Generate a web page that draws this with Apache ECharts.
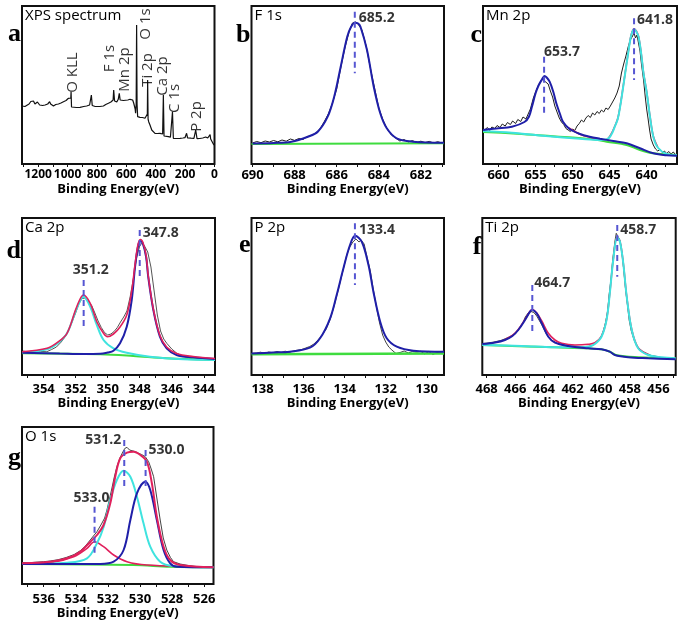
<!DOCTYPE html>
<html><head><meta charset="utf-8">
<script src="https://cdn.jsdelivr.net/npm/echarts@6/dist/echarts.min.js"></script>
<style>html,body{margin:0;padding:0;background:#fff}#c{width:684px;height:623px}</style>
</head><body><div id="c"></div>
<script>
// ---------- tick labels ----------
const labelsA = [0, 200, 400, 600, 800, 1000, 1200];
const labelsB = [682, 684, 686, 688, 690];
const labelsC = [640, 645, 650, 655, 660];
const labelsD = [344, 346, 348, 350, 352, 354];
const labelsE = [130, 132, 134, 136, 138];
const labelsF = [456, 458, 460, 462, 464, 466, 468];
const labelsG = [526, 528, 530, 532, 534, 536];
const panelTitles = ['XPS spectrum', 'F 1s', 'Mn 2p', 'Ca 2p', 'P 2p', 'Ti 2p', 'O 1s'];
const panelLetters = ['a', 'b', 'c', 'd', 'e', 'f', 'g'];
const axisTitle = 'Binding Energy(eV)';

// ---------- a: survey ----------
const surveyData = [[1310,58],[1290,57.5],[1278,58.7],[1262,60],[1250,62.5],[1243,62],[1238,64],[1232,63],[1222,60],[1214,60.7],[1205,62],[1198,63.3],[1190,59],[1187,58],[1170,58.5],[1153,59],[1135,60],[1122,62.3],[1115,60],[1096,58],[1080,59.5],[1062,60],[1045,61],[1028,62.3],[1010,63.5],[1005,64.7],[994,65.7],[983,64],[978,66],[976,72.3],[973,57],[969,57.5],[960,55.7],[940,56.5],[915,56.7],[890,57.5],[870,58],[850,59],[842,59],[838,69],[835,69],[832,58.5],[828,58],[812,57.5],[800,56.7],[780,57.5],[756,58],[740,59.5],[722,60.7],[705,62],[700,62.3],[690,64],[686,74],[683,74],[680,63],[677,62.3],[665,62],[655,64.7],[650,64],[648,70.7],[645,70.7],[642,64],[638,64],[620,63.5],[609,63.3],[590,64],[575,64.7],[557,64],[550,61],[545,59],[540,55],[537,50.7],[533,60],[530,139],[527,60],[523,47.3],[515,47],[507,46.7],[490,46.5],[473,45.7],[462,47.3],[457,50],[455,84],[452,45],[448,42.3],[439,39],[427,34],[415,32],[405,30.7],[390,30.5],[371,30.7],[353,30],[350,31],[348,69],[346,69],[343.5,28],[330,27.5],[314,27.3],[300,26.8],[289,26.7],[286,52.3],[283,52.3],[280,25.7],[260,25.5],[235,25.7],[215,26],[201,26.3],[190,30.7],[187,30.7],[183,26],[160,25.8],[140,25.7],[130,26],[128,34],[125,34],[119,25.3],[100,25.5],[80,26],[76,26.3],[60,27],[53,28],[46,26],[42,26.3],[35,28],[30,29.3],[26,25],[22,24],[15,24.3],[8,20],[4,20.5],[1,19],[0,19]];
const surveyLabels = [['O KLL',963,91.5],['F 1s',711,105.5],['Mn 2p',609,94.5],['O 1s',466,140],['Ti 2p',452,94],['Ca 2p',350,88],['C 1s',269,65.5],['P 2p',119,47.5]];

// ---------- b: F 1s ----------
const bRaw = [[690.0,21],[689.8,22.5],[689.6,21.3],[689.4,23],[689.2,22],[689.0,23.5],[688.8,22.2],[688.6,24],[688.4,22.8],[688.2,25],[688.0,23.6],[687.8,25.5],[687.6,24.5],[687.4,27.5],[687.2,28.5],[687.0,31],[686.8,35],[686.6,42],[686.4,50],[686.2,61],[686.0,75],[685.8,97],[685.6,117],[685.4,133],[685.25,141],[685.1,142],[684.95,139],[684.8,134],[684.6,118],[684.4,96],[684.2,76],[684.0,56],[683.8,44],[683.6,35],[683.4,29],[683.2,26],[683.0,23],[682.8,24.5],[682.6,22],[682.4,23.4],[682.2,21.5],[682.0,22.8],[681.8,21.4],[681.6,22.6],[681.4,21],[681.2,22.3],[681.0,21]];
const bFit = [[690.0,20.6],[689.0,21],[688.15,22.3],[687.37,27.3],[686.9,32.3],[686.43,47.3],[686.12,67.3],[685.81,97.3],[685.5,127.3],[685.32,137],[685.14,141.3],[684.98,140.5],[684.87,137.3],[684.56,114],[684.24,77.3],[683.93,50.7],[683.62,35.7],[683.15,25.7],[682.37,22.3],[680.9,21.3]];
const bBase = [[690.05,20],[680.9,20.7]];
const bPeaks = [['685.2',685.14,152.3,90.7,145.7,'right',4,0]];

// ---------- c: Mn 2p ----------
const cRaw = [[661.9,34],[661.5,36.5],[661.2,33.5],[660.9,37],[660.5,35.5],[660.2,38.5],[659.8,36.5],[659.5,40],[659.1,38],[658.8,41.5],[658.4,39.5],[658.1,43],[657.7,40.5],[657.4,44.5],[657.0,42.5],[656.7,47],[656.3,45],[656.0,50],[655.7,55],[655.3,66],[655.0,72],[654.6,79],[654.3,83],[654.0,86.5],[653.8,83],[653.6,85],[653.3,80],[653.0,73],[652.7,67],[652.4,58],[652.1,52],[651.8,46],[651.5,42],[651.2,39.5],[650.9,35.5],[650.6,34],[650.3,32.5],[650.0,35],[649.7,33.5],[649.4,38],[649.1,40.5],[648.8,44],[648.5,42],[648.2,46],[647.9,48.5],[647.6,46.5],[647.3,51],[647.0,49],[646.7,52.5],[646.4,50.5],[646.1,54],[645.8,52],[645.5,56],[645.2,54.5],[644.9,58],[644.6,62],[644.3,66],[644.0,71],[643.7,78],[643.4,91],[643.1,100],[642.8,108],[642.5,117],[642.2,124],[641.9,128],[641.7,131],[641.5,126],[641.3,129],[641.1,121],[640.9,113],[640.7,100],[640.4,83],[640.2,68],[640.0,55],[639.8,45],[639.6,34],[639.4,25],[639.1,19],[638.8,15],[638.5,13],[638.2,14.5],[637.9,11.5],[637.6,13],[637.3,10.5],[637.0,12.5],[636.7,10],[636.4,12],[636.1,9.5],[635.9,11]];
const cBlue = [[662.1,34],[660.3,35.5],[658.2,37.3],[656.5,42],[655.9,47.3],[655.5,57],[655.0,70.7],[654.6,78.5],[654.1,85],[653.8,88],[653.5,86.5],[653.1,82.3],[652.6,72],[652.2,60.7],[651.7,50],[651.3,42.3],[650.4,35],[649.0,30],[647.7,27.3],[646.3,25.3],[644.5,23],[642.7,20.7],[640.9,15.7],[639.1,10.7],[637.3,8.7],[635.9,8.3]];
const cCyan = [[662.1,33],[658.2,31.3],[653.6,28],[649.0,25.3],[646.3,24],[645.4,24.4],[644.8,29],[644.3,37.3],[643.9,45],[643.58,57.3],[643.25,73],[642.9,90.7],[642.55,108],[642.22,124],[641.95,132],[641.68,134.7],[641.4,132.5],[641.1,127.3],[640.75,111],[640.42,90.7],[640.0,72],[639.55,47.3],[639.1,27.3],[638.5,16.5],[637.3,10],[635.9,8.7]];
const cRed = [[650.5,36],[649.0,29.8],[647.7,26.8],[646.3,24.8],[645.6,24.2],[645.2,25.5],[644.8,29.8],[644.3,37.8],[643.9,45.5],[643.58,57.8],[643.25,73.5],[642.9,91.2],[642.55,108.5],[642.22,124.5],[641.95,132.5],[641.68,135.2],[641.4,133],[641.1,127.8],[640.75,111.5],[640.42,91.2],[640.0,72.5],[639.55,47.8],[639.1,27.8],[638.5,17]];
const cBase = [[662.1,32],[658,30.5],[654,28.5],[650,26.5],[647,24.5],[645.4,22.3],[642.7,19],[640.9,14],[639.1,10.7],[635.9,9]];
const cPeaks = [['641.8',641.7,145.7,84,144,'right',3,0],['653.7',653.85,107.3,47.3,112.3,'right',0,0]];

// ---------- d: Ca 2p ----------
const dRaw = [[355.3,24],[355.0,23.2],[354.6,24.4],[354.2,23.5],[353.8,23.3],[353.5,25.5],[353.2,28],[352.9,33],[352.6,39.5],[352.3,50],[352.0,62],[351.8,71],[351.6,76.5],[351.4,77],[351.2,74],[351.0,69.5],[350.8,62],[350.6,54],[350.4,47.5],[350.2,42.5],[350.0,40],[349.8,41],[349.6,43.5],[349.4,47.5],[349.2,53],[349.0,58],[348.8,64],[348.6,78],[348.4,96],[348.2,117],[348.0,129],[347.85,132],[347.7,129],[347.5,123],[347.3,108],[347.1,84],[346.9,60],[346.7,44],[346.5,36],[346.3,31.5],[346.0,26],[345.7,22],[345.4,19.5],[345.1,18],[344.7,17.2],[344.3,17],[343.9,16.5],[343.3,16.3]];
const dBlue = [[355.34,22.3],[353.0,21.5],[351.5,21],[350.47,21.2],[350.0,22.5],[349.64,24.3],[349.23,31.7],[348.81,48.3],[348.5,75],[348.29,108.3],[348.1,129],[347.95,134],[347.8,131],[347.6,118],[347.47,98.3],[347.15,65],[346.74,38.3],[346.32,26.7],[345.7,20],[344.67,17.7],[343.3,16]];
const dRed = [[355.34,23.3],[353.79,26.7],[353.1,33],[352.54,41.7],[351.93,68.3],[351.51,80],[351.09,71.7],[350.68,53.3],[350.26,41.7],[350.01,38.3],[349.64,41],[349.23,48],[348.81,60],[348.5,84],[348.29,111],[348.1,131],[347.95,135.5],[347.8,132.5],[347.6,119.5],[347.47,99.5],[347.15,66],[346.74,39.5],[346.32,28],[345.7,21.5],[344.67,18.5],[343.3,16.5]];
const dCyan = [[355.34,22.3],[353.79,25.7],[353.1,32],[352.54,41.7],[351.93,66.7],[351.51,78.3],[351.09,68.3],[350.68,50],[350.26,35],[349.64,26.7],[348.81,22.3],[347.36,18.3],[345.29,15.7],[343.3,15]];
const dBase = [[355.34,21.7],[350.47,20.7],[348.4,19],[346.32,16.7],[343.3,15]];
const dPeaks = [['347.8',348.0,145,95,141.7,'right',3,0],['351.2',351.5,95,45,105,'inside',0,7]];

// ---------- e: P 2p ----------
const eRaw = [[138.54,21.5],[138.3,22],[138.1,22.8],[137.9,21.7],[137.7,23],[137.5,22.2],[137.3,23.5],[137.1,22.5],[136.9,23.8],[136.7,22.6],[136.5,24],[136.3,24.8],[136.1,25.5],[135.9,27],[135.7,28.5],[135.5,31],[135.3,35],[135.1,40],[134.9,46],[134.7,56],[134.5,70],[134.3,86],[134.1,103],[133.9,120],[133.75,128],[133.6,133],[133.45,136],[133.3,133],[133.2,135],[133.05,131],[132.9,117],[132.75,104],[132.6,85],[132.45,68],[132.3,52],[132.15,40],[132.0,33],[131.85,28],[131.7,25],[131.5,21.5],[131.3,22.5],[131.1,24],[130.9,22],[130.7,23.5],[130.5,22.8],[130.3,23.7],[130.1,21],[129.9,23.5],[129.7,20.5],[129.5,22.5],[129.3,23.2],[129.16,24]];
const eFit = [[138.54,21.5],[137.5,22.5],[136.67,23.3],[135.69,27.3],[135.2,36.7],[134.71,56.7],[134.39,80],[134.06,106.7],[133.74,130],[133.49,139.3],[133.17,133.3],[132.84,110],[132.6,83.3],[132.27,53.3],[131.95,36.7],[131.46,28.3],[130.65,24.3],[129.16,23.3]];
const eBase = [[138.54,20.7],[129.16,21.5]];
const ePeaks = [['133.4',133.5,151.7,90,145,'right',4,0]];

// ---------- f: Ti 2p ----------
const fRaw = [[468.3,31.5],[467.9,32],[467.5,33],[467.0,34.5],[466.5,37.5],[466.0,41],[465.79,45],[465.5,51],[465.3,58],[465.1,62],[464.9,63.5],[464.7,62.5],[464.5,59],[464.3,54],[464.1,49],[463.9,43],[463.7,38],[463.46,35],[463.0,31],[462.6,30],[462.3,29],[461.8,28.8],[461.4,28.3],[460.9,28.7],[460.6,29.5],[460.44,31],[460.2,34],[460.0,38],[459.85,44],[459.7,52],[459.55,64],[459.45,80],[459.3,97],[459.2,115],[459.05,133],[458.95,141.7],[458.85,140],[458.7,135],[458.6,127],[458.5,116],[458.4,101],[458.3,86],[458.15,68],[458.05,55],[457.9,44],[457.7,35],[457.5,29],[457.3,26],[457.1,23.5],[456.9,22],[456.5,19.5],[456.1,18.5],[455.8,17.5],[455.3,17],[454.8,16.5]];
const fBlue = [[468.3,31],[467.4,32.5],[466.72,35],[466.2,39],[465.79,45],[465.32,55],[464.97,63.3],[464.81,65],[464.5,61.7],[464.15,51.7],[463.69,38.3],[463.23,32.3],[462.3,29],[460.91,26.7],[459.98,25.7],[459.4,23.3],[459.05,20],[458.12,17.7],[456.72,16.7],[454.8,15.7]];
const fCyan = [[468.3,30],[465.55,29],[463.23,27.7],[461.37,27.7],[460.8,28.5],[460.44,31],[459.98,38.3],[459.63,55],[459.4,81.7],[459.16,115],[458.88,137.7],[458.69,133.3],[458.46,111.7],[458.22,78.3],[457.87,45],[457.42,26.7],[456.72,20],[455.79,17.7],[454.8,16.7]];
const fRed = [[466.72,35.5],[466.2,39.5],[465.79,45.5],[465.32,55.5],[464.97,63.8],[464.81,65.5],[464.5,62],[464.15,54],[463.69,41.7],[463.23,35],[462.76,31.7],[461.83,30],[460.91,30.7],[460.44,32.3],[459.98,39],[459.63,55.5],[459.4,82],[459.16,115.5],[458.88,138],[458.69,133.7],[458.46,112],[458.22,78.7],[457.87,45.5],[457.42,27.2],[456.72,20.5]];
const fBase = [[468.3,30],[463.23,27.7],[460.91,26.7],[459.98,25.7],[459.4,23.3],[458.9,19.7],[457.42,17.7],[454.8,16.3]];
const fPeaks = [['458.7',458.88,150,98.3,145,'right',3,0],['464.7',464.81,90,40,91.7,'right',2,0]];

// ---------- g: O 1s ----------
const gRaw = [[537.34,21.5],[536.9,21.2],[536.5,21.8],[536.0,22.3],[535.6,23],[535.1,24.3],[534.6,26.5],[534.1,29.5],[533.7,33.5],[533.4,38],[533.1,44],[532.9,48],[532.68,52.3],[532.4,60],[532.2,66],[532.06,74],[531.8,92],[531.6,107],[531.44,117.3],[531.25,126],[531.1,131],[530.95,135.5],[530.81,136.7],[530.65,134],[530.5,133.3],[530.3,132.5],[530.09,130.7],[529.9,129.5],[529.67,127.3],[529.46,122.3],[529.3,115],[529.15,107.3],[528.95,86],[528.74,64],[528.55,46],[528.33,34],[528.1,26.5],[527.91,22.3],[527.5,20],[527.0,18.5],[526.5,17.5],[526.0,17],[525.42,16.8]];
const gRed = [[537.34,20.7],[535.58,22.3],[534.54,25.7],[533.72,32.3],[533.09,42.3],[532.68,49],[532.27,59],[531.85,80.7],[531.54,107.3],[531.23,125.7],[530.81,131.3],[530.4,132.3],[529.98,129],[529.57,122.3],[529.26,100.7],[528.95,67.3],[528.53,37.3],[528.12,24],[527.5,19],[525.42,16.7]];
const gCyan = [[537.34,20],[534.54,21.3],[533.3,25.7],[532.68,40.7],[532.26,57.3],[531.85,84],[531.44,104],[531.02,113.3],[530.6,107.3],[530.19,87.3],[529.78,60.7],[529.36,37.3],[528.74,22.3],[527.91,18],[525.42,16.7]];
const gBlue = [[537.34,20],[532.47,20],[531.64,22.3],[531.02,34],[530.6,64],[530.19,90.7],[529.67,102.3],[529.36,94],[528.95,64],[528.53,34],[528.12,20.7],[527.7,17.3],[525.42,16.7]];
const gPink = [[537.34,20],[535.58,21.3],[534.13,27.3],[533.3,35.7],[532.83,42.3],[532.27,37.3],[531.64,29],[530.81,22.3],[529.57,19],[525.42,16.7]];
const gBase = [[537.34,20],[530.4,19],[528.12,17.3],[525.42,16.7]];
const gPeaks = [['531.2',530.98,144,94,144,'left',3,0],['530.0',529.65,134,94,134,'right',3,0],['533.0',532.83,77.3,27.3,85.7,'inside',0,-3]];

// ---------- layout ----------
const FONT = '"Open Sans","Noto Sans",sans-serif';
const INK = '#000';
const C = { raw:'#1e1e1e', blue:'#1f1fa8', cyan:'#3fe3df', red:'#e0205c', green:'#3fdc3f', dash:'#5656d2' };
const grids = [
  {left:22, top:6, width:192.5, height:158},
  {left:251.5, top:6, width:192.5, height:158},
  {left:483, top:6, width:194, height:158},
  {left:22, top:218, width:193, height:157},
  {left:251.5, top:218, width:192.5, height:157},
  {left:482.3, top:218, width:193.4, height:157},
  {left:22, top:427, width:191.5, height:157}
];
const ranges = [[0,1310],[680.9,690.05],[635.9,662.1],[343.3,355.35],[129.16,138.54],[454.8,468.3],[525.42,537.35]];
const tickSteps = [100,1,2.5,1,1,1,1];
const labelSets = [labelsA,labelsB,labelsC,labelsD,labelsE,labelsF,labelsG];
const labelSize = [12,13,13,13,13,13,13];
const rowMargin = [5,5,5,8,8,8,9];
const rowNameGap = [19,19,19,22,22,22,19];
const letterBase = [21,22,22,238,232,234,445];

function ticksFor(i){
  const out=[]; const s=tickSteps[i]; const [a,b]=ranges[i];
  for(let v=Math.ceil(a/s)*s; v<=b+1e-9; v+=s) out.push(+v.toFixed(3));
  return out;
}

const xAxis=[], yAxis=[], series=[], graphic=[];
grids.forEach((g,i)=>{
  g.show=true; g.borderColor='#111'; g.borderWidth=2; g.backgroundColor='transparent';
  xAxis.push({type:'value', gridIndex:i, min:ranges[i][0], max:ranges[i][1], inverse:true,
    axisLine:{show:false}, splitLine:{show:false},
    axisTick:{show:true, inside:false, length:3, customValues:ticksFor(i), lineStyle:{color:'#111',width:1}},
    axisLabel:{show:true, customValues:labelSets[i], hideOverlap:false, showMinLabel:true, showMaxLabel:true,
      formatter:(v)=>String(v),
      margin:rowMargin[i], fontSize:labelSize[i], fontWeight:'bold', fontFamily:FONT, color:INK},
    name:axisTitle, nameLocation:'middle', nameGap:rowNameGap[i],
    nameTextStyle:{fontSize:13, fontWeight:'bold', fontFamily:FONT, color:INK}});
  yAxis.push({type:'value', gridIndex:i, min:0, max:g.height, show:false});
  graphic.push({type:'text', x:g.left+3, y:g.top+2, silent:true,
    style:{text:panelTitles[i], fontSize:15, fontFamily:FONT, fill:INK, textAlign:'left', textVerticalAlign:'top', align:'left', verticalAlign:'top'}});
  graphic.push({type:'text', x:g.left-1, y:letterBase[i], silent:true,
    style:{text:panelLetters[i], fontSize:26, fontWeight:'bold', fontFamily:'"Liberation Serif","DejaVu Serif",serif', fill:INK, textAlign:'right', textVerticalAlign:'alphabetic', align:'right', verticalAlign:'alphabetic'}});
});

function ln(i, data, color, width, z, smooth){
  return {type:'line', xAxisIndex:i, yAxisIndex:i, data, symbol:'none', smooth: smooth ? 0.35 : false,
    lineStyle:{color, width}, z, silent:true, animation:false, clip:true};
}
function peaks(i, list){
  list.forEach(p=>{
    const [txt,E,top,bot,ly,pos,dist,off]=p;
    const s = ln(i, [[E,top],[E,bot]], C.dash, 2, 20, false);
    s.lineStyle.type=[6,4];
    series.push(s);
    series.push({type:'scatter', xAxisIndex:i, yAxisIndex:i, symbolSize:0, silent:true, animation:false, z:30,
      data:[{value:[E,ly], label:{show:true, formatter:txt, position:pos, distance:dist, offset:[off,0],
        fontSize:14, fontWeight:'bold', fontFamily:FONT, color:INK}}]});
  });
}

// a
series.push(ln(0, surveyData, '#111', 1.2, 5, false));
series.push({type:'scatter', xAxisIndex:0, yAxisIndex:0, symbolSize:0, silent:true, animation:false, z:30,
  data: surveyLabels.map(l=>({value:[l[1],l[2]], label:{show:true, formatter:l[0], position:'inside', rotate:90,
    fontSize:15, fontFamily:FONT, color:INK}}))});
// b
series.push(ln(1, bRaw, C.raw, 1, 5, false));
series.push(ln(1, bBase, C.green, 2, 6, false));
series.push(ln(1, bFit, C.blue, 2, 9, true));
peaks(1, bPeaks);
// c
series.push(ln(2, cRaw, C.raw, 1, 5, false));
series.push(ln(2, cBase, C.green, 2, 6, true));
series.push(ln(2, cRed, C.red, 1.6, 7, true));
series.push(ln(2, cCyan, C.cyan, 2, 8, true));
series.push(ln(2, cBlue, C.blue, 2, 9, true));
peaks(2, cPeaks);
// d
series.push(ln(3, dRaw, '#555', 1, 5, false));
series.push(ln(3, dBase, C.green, 2, 6, true));
series.push(ln(3, dCyan, C.cyan, 2, 7, true));
series.push(ln(3, dBlue, C.blue, 2, 8, true));
series.push(ln(3, dRed, C.red, 1.6, 9, true));
peaks(3, dPeaks);
// e
series.push(ln(4, eRaw, '#444', 1, 5, false));
series.push(ln(4, eBase, C.green, 2.5, 6, false));
series.push(ln(4, eFit, C.blue, 2, 9, true));
peaks(4, ePeaks);
// f
series.push(ln(5, fRaw, '#444', 1, 5, false));
series.push(ln(5, fBase, C.green, 2, 6, true));
series.push(ln(5, fRed, C.red, 1.6, 7, true));
series.push(ln(5, fCyan, C.cyan, 2, 8, true));
series.push(ln(5, fBlue, C.blue, 2, 9, true));
peaks(5, fPeaks);
// g
series.push(ln(6, gRaw, '#444', 1, 5, false));
series.push(ln(6, gBase, C.green, 2, 6, true));
series.push(ln(6, gPink, C.red, 1.6, 7, true));
series.push(ln(6, gCyan, C.cyan, 2, 8, true));
series.push(ln(6, gBlue, C.blue, 2, 8, true));
series.push(ln(6, gRed, C.red, 2, 9, true));
peaks(6, gPeaks);

const chart = echarts.init(document.getElementById('c'), null, {renderer:'canvas'});
chart.setOption({animation:false, backgroundColor:'#fff', grid:grids, xAxis, yAxis, series, graphic});
</script></body></html>
